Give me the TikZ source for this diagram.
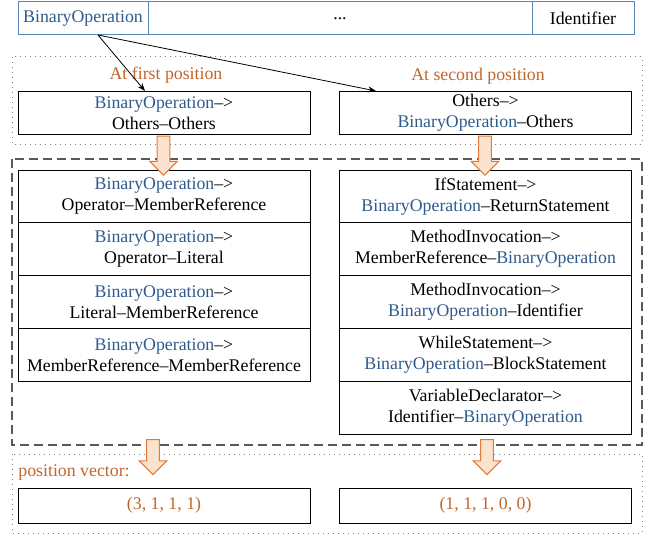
\documentclass[tikz,border=0pt]{standalone}
\usepackage{fontspec}
\setmainfont{Liberation Serif}[Ligatures=TeX]
\newfontfamily\diagfont{Liberation Serif}[Ligatures=TeX]
\usetikzlibrary{arrows.meta,shapes.arrows}

\definecolor{opblue}{HTML}{2F5B8C}
\definecolor{vecorange}{HTML}{C0652B}
\definecolor{barblue}{HTML}{5B86B8}
\definecolor{arrowfill}{HTML}{FBE3D0}
\definecolor{arrowedge}{HTML}{E07A36}

\newcommand{\bop}{\textcolor{opblue}{BinaryOperation}}

\begin{document}
\begin{tikzpicture}[x=0.5pt, y=-0.5pt,
    every node/.style={font=\diagfont\fontsize{8.9}{10.5}\selectfont},
    cell/.style={draw=barblue, line width=0.5pt, minimum height=16.5pt, inner sep=0pt, outer sep=0pt},
    rule/.style={draw, line width=0.5pt, minimum width=146pt, inner sep=0pt, outer sep=0pt, align=center},
    pair/.style={rule, minimum height=21pt},
    item/.style={rule, minimum height=26.4pt},
    vec/.style={rule, minimum height=17.5pt, text=vecorange},
    group/.style={draw=gray, dotted, line width=0.5pt},
    dashgroup/.style={draw=black!65, dash pattern=on 4.5pt off 2.5pt, line width=0.6pt},
    fatarrow/.style={single arrow, draw=arrowedge, fill=arrowfill, line width=0.5pt, inner sep=2.9pt,
        single arrow head extend=3.8pt, shape border rotate=270},
    ptr/.style={-{Stealth[length=4pt, width=3pt]}, line width=0.4pt},
    caption/.style={text=vecorange}
]
\useasboundingbox (0,0) rectangle (652,535);

% Groups
\draw[group] (12,57) rectangle (642,144);
\draw[dashgroup] (12,159) rectangle (642,445);
\draw[group] (12,454) rectangle (642,533);

% Token sequence
\node[cell, minimum width=65pt, text=opblue] (bo) at (83,18.5) {BinaryOperation};
\node[cell, minimum width=192pt] (dots) at (340,18.5) {...};
\node[cell, minimum width=51pt] (ident) at (583,18.5) {Identifier};

% Positions
\node[caption] (capA) at (166,75) {At first position};
\node[caption] (capB) at (478,76) {At second position};
\node[pair] (first) at (164,113) {\bop-->\\Others--Others};
\node[pair] (second) at (485.5,113) {Others-->\\\bop--Others};

\coordinate (src) at (98,35);
\coordinate (hitA) at (145,91);
\coordinate (hitB) at (376,91);
\draw[ptr] (src) -- (hitA);
\draw[ptr] (src) -- (hitB);

% Contexts
\node[item] (opmem) at (164,196.4) {\bop-->\\Operator--MemberReference};
\node[item] (oplit) at (164,249.2) {\bop-->\\Operator--Literal};
\node[item] (litmem) at (164,302) {\bop-->\\Literal--MemberReference};
\node[item] (memmem) at (164,354.8) {\bop-->\\MemberReference--MemberReference};

\node[item] (ifret) at (485.5,196.4) {IfStatement-->\\\bop--ReturnStatement};
\node[item] (callmem) at (485.5,249.2) {MethodInvocation-->\\MemberReference--\bop};
\node[item] (callid) at (485.5,302) {MethodInvocation-->\\\bop--Identifier};
\node[item] (whileblk) at (485.5,354.8) {WhileStatement-->\\\bop--BlockStatement};
\node[item] (vardecl) at (485.5,407.6) {VariableDeclarator-->\\Identifier--\bop};

% Big arrows
\node[fatarrow, minimum height=19.5pt] (downA) at (163.5,152.5) {};
\node[fatarrow, minimum height=19.5pt] (downB) at (485,152.5) {};
\node[fatarrow, minimum height=17.5pt] (downC) at (153,454) {};
\node[fatarrow, minimum height=17.5pt] (downD) at (487,454) {};

% Vectors
\node[caption, anchor=west, inner sep=0pt] (vlabel) at (18,472) {position vector:};
\node[vec] (vecA) at (164,505.5) {(3, 1, 1, 1)};
\node[vec] (vecB) at (485.5,505.5) {(1, 1, 1, 0, 0)};

\end{tikzpicture}
\end{document}
